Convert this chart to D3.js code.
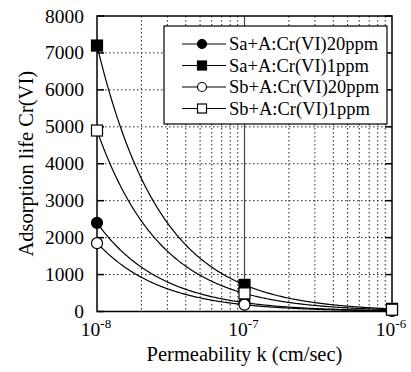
<!DOCTYPE html>
<html>
<head>
<meta charset="utf-8">
<script src="https://cdn.jsdelivr.net/npm/d3@7"></script>
<style>
  body { margin: 0; background: #fff; }
</style>
</head>
<body>
<svg id="chart" width="411" height="372"></svg>
<script>
/** DATA **/
var permeability = [1e-8, 1e-7, 1e-6];
var seriesNames = ["Sa+A:Cr(VI)20ppm", "Sa+A:Cr(VI)1ppm", "Sb+A:Cr(VI)20ppm", "Sb+A:Cr(VI)1ppm"];
var saA20 = [2400, 240, 24];
var saA1 = [7200, 720, 72];
var sbA20 = [1850, 185, 18];
var sbA1 = [4900, 490, 49];
var yTicks = [0, 1000, 2000, 3000, 4000, 5000, 6000, 7000, 8000];
var xExponents = [-8, -7, -6];

var markers = [
  {shape: "circle", fill: "#000"},
  {shape: "square", fill: "#000"},
  {shape: "circle", fill: "#fff"},
  {shape: "square", fill: "#fff"}
];
var allSeries = [saA20, saA1, sbA20, sbA1];
var serif = "'Liberation Serif'";

var svg = d3.select("#chart");
var plotL = 97, plotR = 392, plotT = 16, plotB = 311.5;

var x = d3.scaleLog().domain([1e-8, 1e-6]).range([plotL, plotR]);
var y = d3.scaleLinear().domain([0, 8000]).range([plotB, plotT]);

/* grid */
var minor = [];
[1e-8, 1e-7].forEach(function(dec) {
  for (var m = 2; m <= 9; m++) minor.push(m * dec);
});
svg.selectAll(".vgrid")
  .data(minor)
  .enter()
  .append("line")
    .attr("x1", function(d) {return x(d);})
    .attr("x2", function(d) {return x(d);})
    .attr("y1", plotT)
    .attr("y2", plotB)
    .style("stroke", "#222")
    .style("stroke-width", 1)
    .style("stroke-dasharray", "1.5,2.5");

svg.selectAll(".hgrid")
  .data(yTicks.slice(1, -1))
  .enter()
  .append("line")
    .attr("x1", plotL)
    .attr("x2", plotR)
    .attr("y1", function(d) {return y(d);})
    .attr("y2", function(d) {return y(d);})
    .style("stroke", "#222")
    .style("stroke-width", 1)
    .style("stroke-dasharray", "1.5,2.5");

// solid line at the middle decade
svg.append("line")
  .attr("x1", x(1e-7)).attr("x2", x(1e-7))
  .attr("y1", plotT).attr("y2", plotB)
  .style("stroke", "#444")
  .style("stroke-width", 1.2);

// inward ticks on left and right
svg.selectAll(".ltick")
  .data(yTicks)
  .enter()
  .append("line")
    .attr("x1", plotL).attr("x2", plotL + 7)
    .attr("y1", function(d) {return y(d);})
    .attr("y2", function(d) {return y(d);})
    .style("stroke", "#000").style("stroke-width", 1.5);
svg.selectAll(".rtick")
  .data(yTicks)
  .enter()
  .append("line")
    .attr("x1", plotR - 7).attr("x2", plotR)
    .attr("y1", function(d) {return y(d);})
    .attr("y2", function(d) {return y(d);})
    .style("stroke", "#000").style("stroke-width", 1.5);

// frame
svg.append("rect")
  .attr("x", plotL).attr("y", plotT)
  .attr("width", plotR - plotL).attr("height", plotB - plotT)
  .style("fill", "none")
  .style("stroke", "#000")
  .style("stroke-width", 1.5);

/* axis labels */
svg.selectAll(".ylab")
  .data(yTicks)
  .enter()
  .append("text")
    .text(function(d) {return d;})
    .attr("x", 84)
    .attr("y", function(d) {return y(d) + 6.5;})
    .style("text-anchor", "end")
    .style("font-family", serif)
    .style("font-size", "19.5px");

var xl = svg.selectAll(".xlab")
  .data(xExponents)
  .enter()
  .append("text")
    .attr("x", function(d) {return x(Math.pow(10, d)) - 1;})
    .attr("y", 336)
    .style("text-anchor", "middle")
    .style("font-family", serif)
    .style("font-size", "19.5px");
xl.append("tspan").text("10");
xl.append("tspan")
  .text(function(d) {return "-" + Math.abs(d);})
  .attr("dy", -8)
  .style("font-size", "13px");

svg.append("text")
  .text("Permeability k (cm/sec)")
  .attr("x", (plotL + plotR) / 2)
  .attr("y", 361)
  .style("text-anchor", "middle")
  .style("font-family", serif)
  .style("font-size", "20.5px");

svg.append("text")
  .text("Adsorption life Cr(VI)")
  .attr("transform", "translate(33," + ((plotT + plotB) / 2) + ") rotate(-90)")
  .style("text-anchor", "middle")
  .style("font-family", serif)
  .style("font-size", "20.5px");

/* fitted power-law trend lines (least squares in log-log space) */
function fitPower(ks, vs) {
  var lx = ks.map(Math.log10), ly = vs.map(Math.log10);
  var mx = d3.mean(lx), my = d3.mean(ly);
  var b = d3.sum(lx, function(v, i) {return (v - mx) * (ly[i] - my);}) /
          d3.sum(lx, function(v) {return (v - mx) * (v - mx);});
  var a = my - b * mx;
  return function(k) {return Math.pow(10, a + b * Math.log10(k));};
}

var line = d3.line()
  .x(function(d) {return x(d[0]);})
  .y(function(d) {return y(d[1]);});

allSeries.forEach(function(vals) {
  var f = fitPower(permeability, vals);
  var ks = d3.range(0, 301).map(function(i) {return x.invert(plotL + (plotR - plotL) * i / 300);});
  svg.append("path")
    .datum(ks.map(function(k) {return [k, f(k)];}))
    .attr("d", line)
    .style("fill", "none")
    .style("stroke", "#000")
    .style("stroke-width", 1.2);
});

/* markers */
function drawMarker(g, m, cx, cy, size) {
  if (m.shape === "circle") {
    g.append("circle")
      .attr("cx", cx).attr("cy", cy).attr("r", size / 2)
      .style("fill", m.fill).style("stroke", "#000").style("stroke-width", 1.2);
  } else {
    g.append("rect")
      .attr("x", cx - size / 2).attr("y", cy - size / 2)
      .attr("width", size).attr("height", size)
      .style("fill", m.fill).style("stroke", "#000").style("stroke-width", 1.2);
  }
}

allSeries.forEach(function(vals, si) {
  vals.forEach(function(v, i) {
    drawMarker(svg, markers[si], x(permeability[i]), y(v), 11);
  });
});

/* legend */
var lg = svg.append("g");
lg.append("rect")
  .attr("x", 164).attr("y", 26)
  .attr("width", 223).attr("height", 98)
  .style("fill", "#fff")
  .style("stroke", "#000")
  .style("stroke-width", 1.2);

seriesNames.forEach(function(name, i) {
  var ly = 44 + i * 21.5;
  lg.append("line")
    .attr("x1", 182).attr("x2", 226)
    .attr("y1", ly).attr("y2", ly)
    .style("stroke", "#000").style("stroke-width", 1.2);
  drawMarker(lg, markers[i], 202, ly, 9);
  lg.append("text")
    .text(name)
    .attr("x", 229)
    .attr("y", ly + 6)
    .style("font-family", serif)
    .style("font-size", "18.5px");
});
</script>
</body>
</html>
